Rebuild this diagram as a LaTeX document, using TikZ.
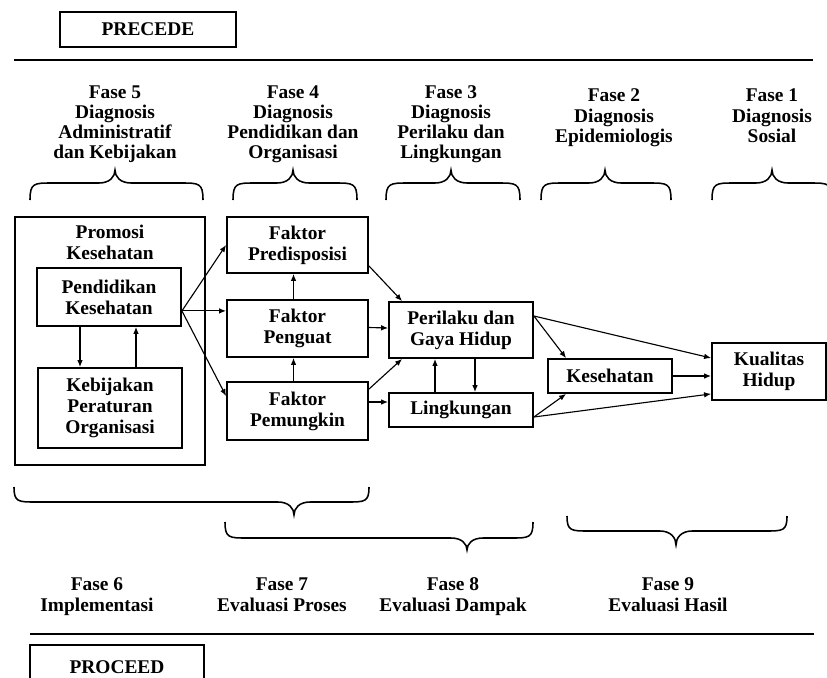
\documentclass[tikz,border=0pt]{standalone}
\usepackage{fontspec}
\setmainfont{Liberation Serif}
\usetikzlibrary{arrows.meta,calc}
\def\px{0.025cm}
\newcommand\mybrace[6]{%
 \draw[bracestyle] (#1,#4) .. controls (#1,#5) and ({#1+4},#5) .. ({#1+22},#5) -- ({#2-16},#5) .. controls ({#2-5},#5) and (#2,{(#5+#6)/2}) .. (#2,#6) .. controls (#2,{(#5+#6)/2}) and ({#2+5},#5) .. ({#2+16},#5) -- ({#3-22},#5) .. controls ({#3-4},#5) and (#3,#5) .. (#3,#4);}
\tikzset{
 txt/.style={font=\fontsize{13.8}{14.8}\selectfont\bfseries},
 box/.style={draw, line width=1.3pt, align=center, inner sep=0pt, txt},
 lbl/.style={align=center, inner sep=0pt, anchor=north, txt},
 hdr/.style={lbl, font=\fontsize{13.8}{14.3}\selectfont\bfseries},
 arr/.style={-{Latex[length=5pt,width=4pt]}, line width=0.8pt},
 bracestyle/.style={line width=1.1pt},
 rule/.style={line width=1.5pt},
}
\begin{document}
\begin{tikzpicture}[x=0.025cm,y=-0.025cm]
\useasboundingbox (0,0) rectangle (827,677);
\clip (0,0) rectangle (827,677);
% headers
\node[box, minimum width=176*\px, minimum height=35*\px] (precede) at (148,29.5) {PRECEDE};
\coordinate (r1a) at (14,60); \coordinate (r1b) at (813,60);
\draw[rule] (r1a) -- (r1b);
\node[hdr] (f5) at (115,84) {\strut Fase 5\\Diagnosis\\Administratif\\dan Kebijakan};
\node[hdr] (f4) at (293,84) {\strut Fase 4\\Diagnosis\\Pendidikan dan\\Organisasi};
\node[hdr] (f3) at (451,84) {\strut Fase 3\\Diagnosis\\Perilaku dan\\Lingkungan};
\node[lbl] (f2) at (614,86.5) {\strut Fase 2\\Diagnosis\\Epidemiologis};
\node[lbl] (f1) at (772,86.5) {\strut Fase 1\\Diagnosis\\Sosial};
% top braces
\mybrace{30}{115}{203}{200}{183}{170}
\mybrace{233}{293}{357}{200}{183}{170}
\mybrace{386}{451}{520}{200}{183}{170}
\mybrace{541}{605}{671}{200}{183}{170}
\mybrace{712}{772}{832}{200}{183}{170}
% boxes
\node[box, minimum width=190*\px, minimum height=248*\px] (promosi) at (110,341) {};
\node[lbl] (promosilbl) at (110,223.5) {\strut Promosi\\Kesehatan};
\node[box, minimum width=144*\px, minimum height=58*\px] (pendidikan) at (109,297) {Pendidikan\\Kesehatan};
\node[box, minimum width=144*\px, minimum height=80*\px] (kebijakan) at (110,408) {Kebijakan\\Peraturan\\Organisasi};
\node[box, minimum width=141*\px, minimum height=56*\px] (predisposisi) at (297.5,245) {Faktor\\Predisposisi};
\node[box, minimum width=141*\px, minimum height=57*\px] (penguat) at (297.5,328.5) {Faktor\\Penguat};
\node[box, minimum width=141*\px, minimum height=58*\px] (pemungkin) at (297.5,411) {Faktor\\Pemungkin};
\node[box, minimum width=144*\px, minimum height=56*\px] (perilaku) at (461,330) {Perilaku dan\\Gaya Hidup};
\node[box, minimum width=144*\px, minimum height=34*\px] (lingkungan) at (461,410) {Lingkungan};
\node[box, minimum width=124*\px, minimum height=34*\px] (kesehatan) at (610,376) {Kesehatan};
\node[box, minimum width=114*\px, minimum height=57*\px] (kualitas) at (769,371.5) {Kualitas\\Hidup};
% arrows
\draw[arr] ($(pendidikan.south)+(-29,0)$) -- ($(kebijakan.north)+(-30,0)$);
\draw[arr] ($(kebijakan.north)+(26,0)$) -- ($(pendidikan.south)+(27,0)$);
\coordinate (pe) at ($(pendidikan.south east)+(0,-16)$);
\draw[arr] (pe) -- (predisposisi.west);
\draw[arr] (pe) -- (penguat.west |- pe);
\draw[arr] (pe) -- ($(pemungkin.north west)+(0,15)$);
\draw[arr] ($(penguat.north)+(-4,0)$) -- ($(predisposisi.south)+(-4,0)$);
\draw[arr] ($(pemungkin.north)+(-4,0)$) -- ($(penguat.south)+(-4,0)$);
\draw[arr] ($(predisposisi.south east)+(0,-8)$) -- ($(perilaku.north west)+(14,0)$);
\draw[arr] ($(penguat.east)+(0,-1)$) -- ($(perilaku.west)+(0,-2)$);
\draw[arr] ($(pemungkin.north east)+(0,8)$) -- ($(perilaku.south west)+(14,0)$);
\draw[arr] ($(pemungkin.east)+(0,-9)$) -- ($(lingkungan.west)+(0,-8)$);
\draw[arr] ($(lingkungan.north)+(-26,0)$) -- ($(perilaku.south)+(-26,0)$);
\draw[arr] ($(perilaku.south)+(14,0)$) -- ($(lingkungan.north)+(14,0)$);
\coordinate (pr) at ($(perilaku.east)+(0,-14)$);
\draw[arr] (pr) -- ($(kesehatan.north west)+(19,0)$);
\draw[arr] (pr) -- ($(kualitas.west)+(0,-13.5)$);
\draw[arr] (kesehatan.east) -- (kualitas.west |- kesehatan.east);
\coordinate (lr) at ($(lingkungan.east)+(0,7)$);
\draw[arr] (lr) -- ($(kesehatan.south west)+(19,0)$);
\draw[arr] (lr) -- ($(kualitas.south west)+(0,-7)$);
% bottom braces
\mybrace{14}{294}{369}{487}{502}{515}
\mybrace{225}{467}{533}{522}{538}{550}
\mybrace{567}{676}{787}{516}{531}{545}
% bottom labels
\node[lbl] (f6) at (97,575.5) {\strut Fase 6\\Implementasi};
\node[lbl] (f7) at (282,575.5) {\strut Fase 7\\Evaluasi Proses};
\node[lbl] (f8) at (453,575.5) {\strut Fase 8\\Evaluasi Dampak};
\node[lbl] (f9) at (668,575.5) {\strut Fase 9\\Evaluasi Hasil};
\coordinate (r2a) at (30,634); \coordinate (r2b) at (814,634);
\draw[rule] (r2a) -- (r2b);
\node[box, minimum width=174*\px, minimum height=44*\px] (proceed) at (117,667) {PROCEED};
\end{tikzpicture}
\end{document}
